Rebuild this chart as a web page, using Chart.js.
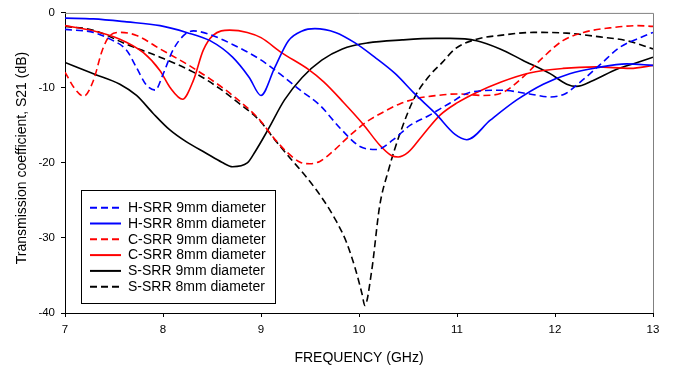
<!DOCTYPE html>
<html>
<head>
<meta charset="utf-8">
<script src="https://cdn.jsdelivr.net/npm/chart.js@4.4.1/dist/chart.umd.min.js"></script>
<style>
  html, body { margin: 0; padding: 0; background: #fff; }
</style>
</head>
<body>
<canvas id="s21Chart" width="674" height="366"></canvas>
<script>
// values (frequency in GHz, S21 in dB)
const seriesNames = ["H-SRR 9mm diameter", "H-SRR 8mm diameter", "C-SRR 9mm diameter",
                     "C-SRR 8mm diameter", "S-SRR 9mm diameter", "S-SRR 8mm diameter"];

const hsrr9Freq = [7.0,7.29,7.46,7.63,7.73,7.83,7.92,8.0,8.1,8.22,8.31,8.48,8.71,8.99,9.2,9.4,9.6,9.81,10.01,10.18,10.35,10.52,10.71,10.93,11.13,11.44,11.74,11.95,12.1,12.26,12.46,12.66,12.87,13.0];
const hsrr9S21  = [-2.2,-2.6,-3.5,-5.0,-7.3,-9.6,-10.3,-8.2,-5.0,-2.9,-2.4,-2.9,-4.2,-6.2,-8.2,-10.3,-12.3,-15.4,-17.8,-18.2,-16.9,-15.0,-13.7,-12.0,-10.6,-10.3,-10.8,-11.2,-10.8,-9.2,-6.9,-4.6,-3.3,-2.6];

const hsrr8Freq = [7.0,7.29,7.63,7.97,8.24,8.48,8.71,8.88,9.0,9.14,9.28,9.42,9.55,9.76,9.96,10.16,10.37,10.57,10.78,10.98,11.1,11.34,11.61,11.88,12.15,12.43,12.73,13.0];
const hsrr8S21  = [-0.7,-0.8,-1.2,-1.7,-2.6,-3.7,-5.9,-8.6,-11.0,-7.3,-3.7,-2.4,-2.1,-2.6,-4.0,-5.9,-8.1,-10.8,-13.4,-16.2,-16.9,-14.3,-11.6,-9.5,-8.1,-7.3,-6.8,-7.0];

const csrr9Freq = [7.0,7.1,7.19,7.29,7.38,7.46,7.56,7.73,7.97,8.24,8.48,8.71,8.99,9.12,9.26,9.4,9.5,9.6,9.73,9.91,10.08,10.25,10.42,10.59,10.8,11.0,11.27,11.47,11.67,11.88,12.08,12.29,12.56,12.84,13.0];
const csrr9S21  = [-7.9,-10.1,-11.1,-9.0,-5.0,-3.0,-2.6,-3.0,-4.8,-6.8,-8.8,-11.0,-14.3,-16.5,-18.5,-19.9,-20.1,-19.8,-18.5,-16.3,-14.5,-13.2,-12.1,-11.4,-11.0,-10.8,-11.0,-10.6,-8.6,-5.9,-3.7,-2.6,-2.0,-1.7,-1.8];

const csrr8Freq = [7.0,7.29,7.56,7.8,7.97,8.07,8.2,8.31,8.41,8.51,8.68,8.86,9.0,9.21,9.48,9.64,9.84,10.04,10.21,10.33,10.4,10.5,10.65,10.83,11.0,11.2,11.45,11.74,12.08,12.42,12.77,13.0];
const csrr8S21  = [-1.7,-2.4,-3.5,-5.3,-7.7,-9.9,-11.5,-9.0,-5.0,-3.0,-2.3,-2.6,-3.3,-5.3,-7.5,-9.2,-11.9,-14.8,-17.6,-19.0,-19.2,-18.6,-16.3,-13.6,-12.0,-10.6,-9.2,-8.0,-7.4,-7.2,-7.4,-7.0];

const ssrr9Freq = [7.0,7.29,7.56,7.73,7.9,8.07,8.24,8.44,8.6,8.71,8.86,8.94,9.07,9.24,9.42,9.62,9.83,10.09,10.44,10.78,10.93,11.2,11.44,11.67,11.95,12.12,12.22,12.39,12.63,12.84,13.0];
const ssrr9S21  = [-6.6,-8.1,-9.5,-11.0,-13.4,-15.6,-17.2,-18.7,-19.9,-20.5,-20.0,-18.5,-15.6,-11.6,-8.6,-6.3,-4.8,-4.0,-3.6,-3.4,-3.4,-3.7,-4.8,-6.3,-8.1,-9.5,-9.8,-9.0,-7.5,-6.6,-5.9];

const ssrr8Freq = [7.0,7.29,7.63,7.97,8.31,8.58,8.78,8.99,9.14,9.3,9.47,9.64,9.77,9.87,9.96,10.03,10.06,10.13,10.21,10.3,10.42,10.57,10.71,10.85,10.98,11.2,11.44,11.78,12.12,12.46,12.73,13.0];
const ssrr8S21  = [-1.8,-2.3,-4.2,-5.9,-7.9,-10.1,-12.1,-14.4,-16.9,-19.4,-22.0,-25.0,-27.8,-30.5,-34.0,-37.4,-39.0,-34.3,-25.8,-21.0,-16.0,-11.2,-8.5,-6.6,-4.8,-3.5,-3.0,-2.6,-2.7,-3.2,-3.7,-4.8];

const xTicks = [7, 8, 9, 10, 11, 12, 13];
const yTicks = [-40, -30, -20, -10, 0];

const fontFamily = "'Liberation Sans', Arial, Helvetica, sans-serif";

function toPoints(freq, vals) {
    return freq.map((f, i) => ({ x: f, y: vals[i] }));
}

function makeSet(label, freq, vals, color, dashed) {
    return {
        label: label,
        data: toPoints(freq, vals),
        borderColor: color,
        backgroundColor: color,
        borderWidth: 1.6,
        borderDash: dashed ? [7, 4] : [],
        pointRadius: 0,
        fill: false,
        cubicInterpolationMode: 'monotone'
    };
}

// frame (gray top/right), axis titles, legend box
const decorations = {
    id: 'decorations',
    afterDraw(chart) {
        const ctx = chart.ctx;
        const a = chart.chartArea;
        ctx.save();

        ctx.strokeStyle = '#808080';
        ctx.lineWidth = 1;
        ctx.beginPath();
        ctx.moveTo(a.left, a.top + 0.5);
        ctx.lineTo(a.right + 0.5, a.top + 0.5);
        ctx.lineTo(a.right + 0.5, a.bottom);
        ctx.stroke();

        ctx.fillStyle = '#000';
        ctx.font = '14px ' + fontFamily;
        ctx.textAlign = 'center';
        ctx.textBaseline = 'middle';
        ctx.fillText('FREQUENCY (GHz)', (a.left + a.right) / 2, 358);

        ctx.save();
        ctx.translate(22, 158);
        ctx.rotate(-Math.PI / 2);
        ctx.fillText('Transmission coefficient, S21 (dB)', 0, 0);
        ctx.restore();

        // legend
        const bx = 81.5, by = 190.5, bw = 194, bh = 113;
        ctx.fillStyle = '#fff';
        ctx.fillRect(bx, by, bw, bh);
        ctx.strokeStyle = '#000';
        ctx.lineWidth = 1;
        ctx.strokeRect(bx, by, bw, bh);

        ctx.textAlign = 'left';
        chart.data.datasets.forEach((ds, i) => {
            const y = 207.7 + i * 15.8;
            ctx.strokeStyle = ds.borderColor;
            ctx.lineWidth = 2;
            ctx.setLineDash(ds.borderDash);
            ctx.beginPath();
            ctx.moveTo(90, y);
            ctx.lineTo(121, y);
            ctx.stroke();
            ctx.setLineDash([]);
            ctx.fillStyle = '#000';
            ctx.fillText(ds.label, 128, y + 0.5);
        });
        ctx.restore();
    }
};

const ctx = document.getElementById('s21Chart').getContext('2d');

const s21Chart = new Chart(ctx, {
    type: 'line',
    data: {
        datasets: [
            makeSet(seriesNames[0], hsrr9Freq, hsrr9S21, '#0000ff', true),
            makeSet(seriesNames[1], hsrr8Freq, hsrr8S21, '#0000ff', false),
            makeSet(seriesNames[2], csrr9Freq, csrr9S21, '#ff0000', true),
            makeSet(seriesNames[3], csrr8Freq, csrr8S21, '#ff0000', false),
            makeSet(seriesNames[4], ssrr9Freq, ssrr9S21, '#000000', false),
            makeSet(seriesNames[5], ssrr8Freq, ssrr8S21, '#000000', true)
        ]
    },
    plugins: [decorations],
    options: {
        responsive: false,
        animation: false,
        layout: { padding: { top: 10, right: 21, left: 0, bottom: 0 } },
        plugins: {
            legend: { display: false },
            tooltip: { enabled: false }
        },
        scales: {
            x: {
                type: 'linear',
                min: 7,
                max: 13,
                afterBuildTicks: (scale) => {
                    scale.ticks = xTicks.map(v => ({ value: v }));
                },
                ticks: {
                    color: '#000',
                    padding: 6,
                    maxRotation: 0,
                    font: { family: fontFamily, size: 11.5 }
                },
                grid: { drawOnChartArea: false, tickLength: 4, color: '#000' },
                border: { color: '#000', width: 1 },
                afterFit: (scale) => { scale.height = 53; }
            },
            y: {
                min: -40,
                max: 0,
                afterBuildTicks: (scale) => {
                    scale.ticks = yTicks.map(v => ({ value: v }));
                },
                ticks: {
                    color: '#000',
                    padding: 6,
                    font: { family: fontFamily, size: 11.5 }
                },
                grid: { drawOnChartArea: false, tickLength: 4, color: '#000' },
                border: { color: '#000', width: 1 },
                afterFit: (scale) => { scale.width = 65; }
            }
        }
    }
});
</script>
</body>
</html>
